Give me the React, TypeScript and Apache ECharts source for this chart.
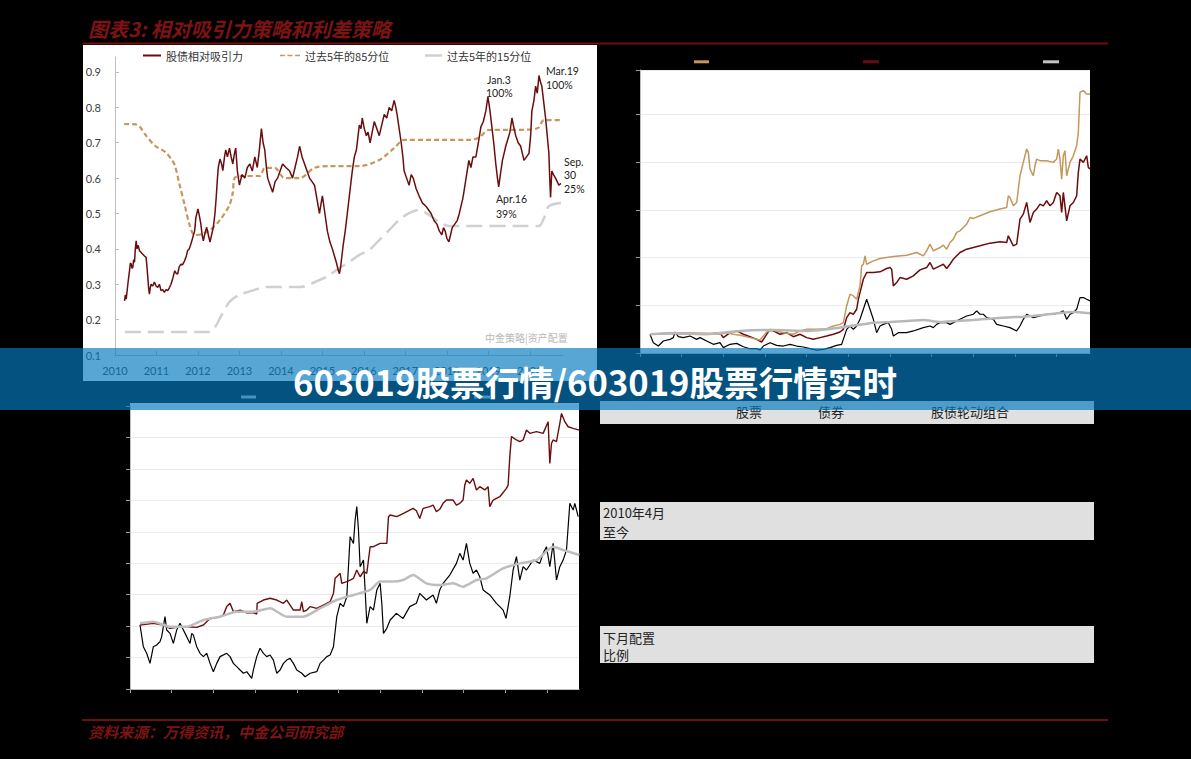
import React, { useEffect, useRef } from "react";
import * as echarts from "echarts";

// ---------- Top-left: 股债相对吸引力 ----------
const yearTicks = [2010, 2011, 2012, 2013, 2014, 2015, 2016, 2017, 2018, 2019, 2020];
const attrTicks = [0.1, 0.2, 0.3, 0.4, 0.5, 0.6, 0.7, 0.8, 0.9];

const attraction = [
  [2010.23,0.253],[2010.25,0.27],[2010.27,0.258],[2010.31,0.30],[2010.33,0.32],[2010.35,0.338],[2010.37,0.36],[2010.39,0.357],[2010.41,0.345],[2010.43,0.348],[2010.45,0.37],[2010.47,0.362],[2010.49,0.40],[2010.51,0.423],[2010.53,0.40],[2010.56,0.41],[2010.59,0.395],[2010.63,0.39],[2010.67,0.385],[2010.71,0.38],[2010.75,0.376],[2010.77,0.35],[2010.79,0.32],[2010.81,0.29],[2010.83,0.272],[2010.85,0.29],[2010.87,0.30],[2010.91,0.295],[2010.95,0.306],[2010.99,0.295],[2011.03,0.291],[2011.07,0.30],[2011.11,0.282],[2011.15,0.285],[2011.19,0.277],[2011.23,0.285],[2011.27,0.282],[2011.31,0.29],[2011.35,0.30],[2011.40,0.32],[2011.44,0.338],[2011.48,0.33],[2011.51,0.329],[2011.55,0.35],[2011.59,0.357],[2011.63,0.355],[2011.68,0.367],[2011.72,0.38],[2011.75,0.395],[2011.79,0.40],[2011.83,0.414],[2011.87,0.43],[2011.92,0.451],[2011.95,0.489],[2012.00,0.513],[2012.04,0.49],[2012.07,0.47],[2012.10,0.44],[2012.13,0.423],[2012.17,0.445],[2012.21,0.461],[2012.25,0.44],[2012.29,0.419],[2012.33,0.44],[2012.37,0.461],[2012.41,0.50],[2012.44,0.546],[2012.47,0.60],[2012.49,0.63],[2012.53,0.654],[2012.57,0.64],[2012.60,0.621],[2012.64,0.66],[2012.67,0.68],[2012.71,0.66],[2012.76,0.685],[2012.80,0.66],[2012.84,0.64],[2012.88,0.67],[2012.91,0.685],[2012.95,0.62],[2013.00,0.58],[2013.06,0.61],[2013.13,0.60],[2013.19,0.63],[2013.25,0.64],[2013.31,0.62],[2013.37,0.66],[2013.43,0.63],[2013.48,0.68],[2013.53,0.74],[2013.57,0.70],[2013.61,0.68],[2013.65,0.63],[2013.68,0.60],[2013.74,0.58],[2013.80,0.56],[2013.86,0.59],[2013.92,0.60],[2013.98,0.62],[2014.04,0.64],[2014.12,0.63],[2014.21,0.62],[2014.28,0.60],[2014.34,0.63],[2014.40,0.66],[2014.45,0.69],[2014.51,0.66],[2014.57,0.64],[2014.63,0.62],[2014.69,0.60],[2014.75,0.59],[2014.81,0.58],[2014.87,0.54],[2014.93,0.50],[2014.97,0.53],[2015.00,0.55],[2015.06,0.50],[2015.12,0.45],[2015.18,0.42],[2015.24,0.40],[2015.29,0.38],[2015.34,0.36],[2015.38,0.34],[2015.41,0.33],[2015.44,0.35],[2015.46,0.37],[2015.50,0.41],[2015.55,0.45],[2015.60,0.50],[2015.65,0.55],[2015.69,0.59],[2015.72,0.62],[2015.77,0.66],[2015.82,0.68],[2015.86,0.72],[2015.89,0.75],[2015.93,0.74],[2015.96,0.77],[2016.01,0.74],[2016.06,0.72],[2016.10,0.73],[2016.15,0.70],[2016.20,0.73],[2016.25,0.76],[2016.31,0.74],[2016.37,0.72],[2016.43,0.75],[2016.49,0.78],[2016.55,0.77],[2016.61,0.80],[2016.67,0.79],[2016.73,0.82],[2016.77,0.80],[2016.80,0.78],[2016.85,0.74],[2016.90,0.70],[2016.94,0.66],[2016.97,0.62],[2017.03,0.60],[2017.09,0.58],[2017.14,0.61],[2017.19,0.60],[2017.26,0.57],[2017.33,0.55],[2017.41,0.53],[2017.50,0.52],[2017.56,0.51],[2017.62,0.50],[2017.69,0.48],[2017.76,0.47],[2017.82,0.45],[2017.88,0.44],[2017.92,0.46],[2017.96,0.45],[2018.00,0.43],[2018.05,0.42],[2018.09,0.44],[2018.13,0.46],[2018.19,0.47],[2018.25,0.48],[2018.30,0.50],[2018.34,0.52],[2018.38,0.54],[2018.41,0.56],[2018.45,0.59],[2018.49,0.62],[2018.53,0.65],[2018.58,0.63],[2018.63,0.66],[2018.70,0.66],[2018.76,0.70],[2018.82,0.745],[2018.88,0.76],[2018.94,0.79],[2018.99,0.83],[2019.04,0.79],[2019.08,0.75],[2019.13,0.70],[2019.18,0.64],[2019.22,0.60],[2019.25,0.575],[2019.29,0.61],[2019.34,0.65],[2019.38,0.67],[2019.42,0.69],[2019.47,0.71],[2019.52,0.73],[2019.57,0.77],[2019.62,0.74],[2019.66,0.72],[2019.72,0.70],[2019.78,0.69],[2019.82,0.67],[2019.86,0.65],[2019.92,0.66],[2019.98,0.67],[2020.02,0.72],[2020.05,0.79],[2020.10,0.82],[2020.14,0.86],[2020.18,0.84],[2020.22,0.89],[2020.26,0.87],[2020.29,0.86],[2020.33,0.82],[2020.38,0.77],[2020.42,0.72],[2020.46,0.67],[2020.48,0.60],[2020.50,0.545],[2020.53,0.62],[2020.57,0.61],[2020.62,0.60],[2020.66,0.59],[2020.70,0.58],[2020.75,0.585]
];

const pct85 = [
  [2010.22,0.753],[2010.50,0.752],[2010.60,0.745],[2010.75,0.72],[2010.98,0.69],[2011.20,0.675],[2011.35,0.655],[2011.44,0.637],[2011.56,0.58],[2011.68,0.524],[2011.80,0.467],[2011.92,0.439],[2012.10,0.442],[2012.28,0.452],[2012.52,0.48],[2012.76,0.524],[2012.84,0.56],[2012.88,0.60],[2013.00,0.606],[2013.49,0.606],[2013.61,0.629],[2013.85,0.629],[2014.09,0.60],[2014.45,0.60],[2014.81,0.629],[2015.17,0.634],[2015.89,0.634],[2016.37,0.651],[2016.73,0.685],[2016.97,0.708],[2018.53,0.708],[2018.77,0.714],[2019.01,0.736],[2019.98,0.737],[2020.20,0.742],[2020.34,0.764],[2020.75,0.764]
];

const pct15 = [
  [2010.24,0.165],[2012.28,0.165],[2012.40,0.176],[2012.57,0.213],[2012.76,0.25],[2013.00,0.27],[2013.37,0.284],[2013.61,0.292],[2014.45,0.292],[2014.93,0.312],[2015.17,0.326],[2015.41,0.346],[2015.65,0.363],[2015.89,0.383],[2016.13,0.397],[2016.37,0.425],[2016.61,0.453],[2016.85,0.482],[2017.09,0.501],[2017.33,0.51],[2017.57,0.496],[2017.81,0.476],[2018.05,0.465],[2020.22,0.465],[2020.34,0.487],[2020.46,0.521],[2020.75,0.53]
];

// ---------- Top-right: 利差策略 ----------
const trSpread = [
  [2010.24,0.696],[2010.80,0.713],[2011.60,0.706],[2011.92,0.696],[2012.08,0.713],[2012.24,0.696],[2012.40,0.685],[2012.64,0.661],[2012.88,0.636],[2013.04,0.72],[2013.20,0.741],[2013.44,0.713],[2013.68,0.696],[2013.84,0.731],[2014.00,0.748],[2014.24,0.748],[2014.48,0.755],[2014.64,0.783],[2014.80,0.80],[2014.88,0.818],[2014.96,0.993],[2015.04,1.116],[2015.12,1.098],[2015.20,1.063],[2015.28,1.203],[2015.32,1.413],[2015.36,1.43],[2015.40,1.518],[2015.44,1.43],[2015.60,1.465],[2015.76,1.49],[2016.08,1.511],[2016.40,1.525],[2016.64,1.553],[2016.80,1.518],[2016.88,1.57],[2016.96,1.64],[2017.04,1.57],[2017.20,1.605],[2017.28,1.63],[2017.36,1.588],[2017.44,1.658],[2017.52,1.693],[2017.60,1.763],[2017.68,1.78],[2017.84,1.85],[2017.92,1.92],[2018.00,1.91],[2018.16,1.938],[2018.40,1.98],[2018.64,2.008],[2018.80,2.025],[2018.84,2.147],[2018.88,2.13],[2018.96,2.042],[2019.04,2.077],[2019.12,2.357],[2019.20,2.497],[2019.28,2.637],[2019.32,2.602],[2019.36,2.427],[2019.44,2.357],[2019.48,2.462],[2019.52,2.532],[2019.60,2.515],[2019.76,2.515],[2019.92,2.497],[2020.00,2.532],[2020.04,2.637],[2020.08,2.532],[2020.12,2.322],[2020.16,2.567],[2020.20,2.62],[2020.24,2.357],[2020.32,2.497],[2020.40,2.567],[2020.48,2.672],[2020.52,2.812],[2020.56,3.232],[2020.64,3.249],[2020.72,3.214],[2020.80,3.214]
];
const trAttraction = [
  [2010.24,0.696],[2010.80,0.706],[2011.60,0.699],[2011.92,0.71],[2012.00,0.661],[2012.16,0.713],[2012.32,0.731],[2012.48,0.696],[2012.64,0.671],[2012.80,0.643],[2012.92,0.615],[2013.04,0.696],[2013.12,0.748],[2013.20,0.731],[2013.36,0.696],[2013.52,0.713],[2013.68,0.671],[2013.84,0.696],[2014.00,0.661],[2014.16,0.643],[2014.32,0.661],[2014.48,0.678],[2014.64,0.696],[2014.80,0.72],[2014.88,0.748],[2014.96,0.871],[2015.04,0.923],[2015.12,0.906],[2015.20,0.958],[2015.24,1.063],[2015.28,1.133],[2015.36,1.273],[2015.44,1.343],[2015.60,1.343],[2015.76,1.35],[2015.92,1.385],[2016.00,1.395],[2016.04,1.378],[2016.08,1.203],[2016.16,1.238],[2016.24,1.29],[2016.40,1.273],[2016.56,1.308],[2016.72,1.371],[2016.88,1.395],[2016.96,1.448],[2017.04,1.378],[2017.20,1.413],[2017.28,1.43],[2017.36,1.385],[2017.44,1.43],[2017.52,1.483],[2017.60,1.518],[2017.68,1.553],[2017.84,1.588],[2018.00,1.605],[2018.16,1.623],[2018.40,1.651],[2018.64,1.665],[2018.80,1.658],[2018.84,1.728],[2018.88,1.693],[2018.96,1.623],[2019.04,1.64],[2019.12,1.903],[2019.20,1.955],[2019.28,2.077],[2019.36,1.868],[2019.44,1.973],[2019.52,2.008],[2019.60,2.06],[2019.68,2.042],[2019.76,2.095],[2019.84,2.042],[2019.92,2.077],[2020.00,2.182],[2020.08,2.147],[2020.12,1.973],[2020.16,2.182],[2020.24,1.885],[2020.32,2.042],[2020.40,2.077],[2020.48,2.147],[2020.52,2.392],[2020.56,2.532],[2020.64,2.497],[2020.72,2.567],[2020.76,2.445],[2020.80,2.427]
];
const trStock = [
  [2010.24,0.696],[2010.32,0.608],[2010.44,0.573],[2010.56,0.626],[2010.72,0.643],[2010.80,0.661],[2010.84,0.72],[2010.92,0.671],[2011.04,0.661],[2011.20,0.678],[2011.36,0.643],[2011.44,0.661],[2011.60,0.626],[2011.76,0.591],[2011.92,0.608],[2012.00,0.556],[2012.16,0.591],[2012.32,0.601],[2012.48,0.566],[2012.64,0.545],[2012.80,0.545],[2012.88,0.531],[2012.96,0.573],[2013.12,0.608],[2013.28,0.58],[2013.44,0.573],[2013.60,0.591],[2013.76,0.573],[2013.92,0.563],[2014.08,0.545],[2014.24,0.531],[2014.40,0.538],[2014.56,0.556],[2014.72,0.58],[2014.84,0.591],[2014.88,0.643],[2014.96,0.748],[2015.04,0.783],[2015.12,0.748],[2015.20,0.783],[2015.28,0.853],[2015.36,0.958],[2015.44,1.063],[2015.52,0.958],[2015.60,0.853],[2015.68,0.713],[2015.76,0.783],[2015.84,0.80],[2015.96,0.818],[2016.04,0.748],[2016.08,0.678],[2016.20,0.713],[2016.40,0.713],[2016.56,0.731],[2016.80,0.766],[2016.96,0.783],[2017.04,0.766],[2017.12,0.80],[2017.20,0.818],[2017.36,0.818],[2017.44,0.80],[2017.52,0.818],[2017.68,0.853],[2017.84,0.888],[2018.00,0.906],[2018.08,0.941],[2018.16,0.906],[2018.24,0.906],[2018.32,0.871],[2018.48,0.853],[2018.56,0.80],[2018.72,0.783],[2018.88,0.766],[2019.04,0.731],[2019.12,0.783],[2019.20,0.853],[2019.28,0.906],[2019.44,0.871],[2019.60,0.888],[2019.76,0.906],[2019.92,0.906],[2020.08,0.923],[2020.16,0.941],[2020.24,0.853],[2020.32,0.906],[2020.40,0.923],[2020.48,0.958],[2020.56,1.081],[2020.64,1.081],[2020.72,1.063],[2020.80,1.046]
];
const trBond = [
  [2010.24,0.696],[2010.80,0.706],[2011.60,0.696],[2012.40,0.731],[2013.20,0.741],[2014.00,0.731],[2014.80,0.766],[2015.60,0.818],[2016.00,0.825],[2016.40,0.836],[2016.80,0.846],[2017.20,0.825],[2017.60,0.836],[2018.00,0.846],[2018.40,0.86],[2018.80,0.871],[2019.20,0.881],[2019.60,0.895],[2020.00,0.916],[2020.40,0.93],[2020.80,0.916]
];

// ---------- Bottom-left: 股债轮动组合 ----------
const blRotation = [
  [2010.24,1.007],[2010.56,1.018],[2010.80,1.007],[2010.96,0.986],[2011.20,0.996],[2011.36,0.996],[2011.60,0.992],[2011.76,1.007],[2011.92,1.049],[2012.16,1.06],[2012.24,1.071],[2012.32,1.124],[2012.40,1.145],[2012.48,1.092],[2012.64,1.102],[2012.80,1.085],[2012.96,1.085],[2013.04,1.077],[2013.05,1.145],[2013.20,1.166],[2013.36,1.177],[2013.52,1.166],[2013.68,1.145],[2013.76,1.166],[2013.84,1.134],[2013.92,1.102],[2014.08,1.102],[2014.12,1.155],[2014.16,1.092],[2014.24,1.102],[2014.32,1.124],[2014.48,1.113],[2014.64,1.134],[2014.80,1.155],[2014.88,1.208],[2014.92,1.304],[2015.00,1.325],[2015.04,1.336],[2015.08,1.272],[2015.20,1.283],[2015.28,1.293],[2015.36,1.304],[2015.44,1.357],[2015.52,1.314],[2015.60,1.346],[2015.68,1.336],[2015.76,1.505],[2015.84,1.505],[2016.00,1.526],[2016.16,1.526],[2016.20,1.696],[2016.24,1.707],[2016.40,1.696],[2016.56,1.717],[2016.71,1.738],[2016.79,1.749],[2016.87,1.734],[2016.95,1.685],[2017.03,1.749],[2017.19,1.76],[2017.27,1.77],[2017.35,1.728],[2017.43,1.743],[2017.51,1.781],[2017.59,1.802],[2017.75,1.802],[2017.83,1.77],[2017.91,1.781],[2017.99,1.802],[2018.03,1.897],[2018.07,1.929],[2018.15,1.908],[2018.23,1.94],[2018.31,1.866],[2018.39,1.887],[2018.51,1.866],[2018.59,1.887],[2018.63,1.76],[2018.71,1.802],[2018.87,1.823],[2019.03,1.876],[2019.07,1.897],[2019.11,2.078],[2019.15,2.205],[2019.27,2.184],[2019.35,2.173],[2019.43,2.184],[2019.51,2.247],[2019.59,2.226],[2019.75,2.237],[2019.91,2.226],[2020.03,2.30],[2020.07,2.035],[2020.11,2.162],[2020.15,2.184],[2020.23,2.173],[2020.31,2.29],[2020.35,2.353],[2020.43,2.30],[2020.51,2.268],[2020.63,2.258],[2020.78,2.247]
];
const blStock = [
  [2010.24,1.007],[2010.32,0.869],[2010.40,0.827],[2010.48,0.763],[2010.56,0.869],[2010.64,0.88],[2010.72,0.901],[2010.76,0.933],[2010.84,1.06],[2010.88,0.975],[2010.96,0.954],[2011.04,0.89],[2011.12,0.975],[2011.20,1.018],[2011.28,0.975],[2011.36,0.933],[2011.44,0.89],[2011.48,0.954],[2011.52,0.943],[2011.60,0.869],[2011.68,0.827],[2011.76,0.806],[2011.84,0.827],[2011.92,0.763],[2012.00,0.71],[2012.08,0.763],[2012.16,0.806],[2012.32,0.827],[2012.40,0.806],[2012.48,0.763],[2012.56,0.742],[2012.64,0.721],[2012.72,0.70],[2012.80,0.71],[2012.92,0.668],[2012.96,0.721],[2013.04,0.806],[2013.12,0.859],[2013.20,0.827],[2013.28,0.806],[2013.36,0.816],[2013.44,0.784],[2013.52,0.70],[2013.60,0.721],[2013.68,0.763],[2013.76,0.784],[2013.84,0.795],[2013.92,0.763],[2014.00,0.721],[2014.12,0.70],[2014.20,0.678],[2014.32,0.70],[2014.48,0.71],[2014.56,0.763],[2014.64,0.784],[2014.72,0.806],[2014.80,0.816],[2014.88,0.869],[2014.96,1.06],[2015.04,1.145],[2015.12,1.124],[2015.20,1.187],[2015.28,1.569],[2015.36,1.526],[2015.40,1.675],[2015.44,1.76],[2015.48,1.611],[2015.52,1.378],[2015.60,1.42],[2015.64,1.23],[2015.68,1.018],[2015.76,1.124],[2015.84,1.102],[2015.92,1.23],[2016.00,1.272],[2016.04,1.145],[2016.08,0.954],[2016.16,0.986],[2016.24,1.039],[2016.39,1.081],[2016.55,1.049],[2016.71,1.124],[2016.87,1.145],[2016.95,1.208],[2017.11,1.166],[2017.27,1.198],[2017.35,1.145],[2017.43,1.23],[2017.51,1.272],[2017.67,1.325],[2017.83,1.399],[2017.91,1.463],[2017.99,1.42],[2018.07,1.526],[2018.15,1.399],[2018.23,1.336],[2018.31,1.357],[2018.39,1.314],[2018.47,1.23],[2018.63,1.198],[2018.79,1.145],[2018.87,1.124],[2018.95,1.102],[2019.02,1.049],[2019.11,1.187],[2019.19,1.357],[2019.27,1.442],[2019.35,1.293],[2019.43,1.378],[2019.51,1.357],[2019.67,1.42],[2019.83,1.399],[2019.91,1.463],[2019.99,1.505],[2020.07,1.378],[2020.15,1.526],[2020.23,1.293],[2020.31,1.378],[2020.39,1.42],[2020.47,1.484],[2020.55,1.781],[2020.63,1.738],[2020.67,1.781],[2020.75,1.696]
];
const blBond = [
  [2010.24,1.018],[2010.56,1.028],[2010.96,0.996],[2011.36,0.996],[2011.76,1.039],[2012.16,1.06],[2012.56,1.092],[2012.96,1.092],[2013.36,1.113],[2013.76,1.06],[2014.16,1.06],[2014.56,1.113],[2014.96,1.166],[2015.36,1.198],[2015.76,1.23],[2016.00,1.283],[2016.31,1.283],[2016.55,1.293],[2016.79,1.325],[2017.11,1.272],[2017.43,1.261],[2017.75,1.272],[2017.99,1.251],[2018.31,1.293],[2018.55,1.304],[2018.95,1.367],[2019.35,1.399],[2019.75,1.42],[2020.15,1.505],[2020.39,1.484],[2020.78,1.452]
];

// ---------- Table ----------
const tableHeader = ["股票", "债券", "股债轮动组合"];
const tableRows = [["2010年4月", "至今"], ["下月配置", "比例"]];

const CJK = '"Noto Sans CJK SC", sans-serif';
const LAT = 'Lato, "Open Sans", sans-serif';
const RED = "#6b0d0f";
const TAN = "#c4975d";
const DASH_ICON = "path://M0,0H6V2H0Z M9,0H15V2H9Z M18,0H24V2H18Z";

function txt(text: string, x: number, y: number, o: any = {}) {
  const align = o.align || "left";
  return {
    type: "text",
    x,
    y,
    z: o.z ?? 10,
    style: {
      text,
      fill: o.fill || "#222",
      fontSize: o.size || 11,
      fontFamily: o.family || LAT,
      fontWeight: o.weight || "normal",
      fontStyle: o.fstyle || "normal",
      align,
      textAlign: align,
      verticalAlign: "middle",
      textVerticalAlign: "middle",
    },
  };
}

function mark(x: number, y: number, w: number, h: number, fill: string, z = 6) {
  return { type: "rect", z, shape: { x, y, width: w, height: h }, style: { fill } };
}

export default function App() {
  const ref = useRef<HTMLDivElement>(null);
  useEffect(() => {
    if (!ref.current) return;
    const chart = echarts.init(ref.current, undefined, { renderer: "svg" });

    const axisGray = "#bfbfbf";
    const hidden = { show: false };

    const legendBase = (name: string, left: number, w: number, h: number, icon = "rect") => ({
      data: [name],
      left,
      top: 50,
      padding: 0,
      icon,
      itemWidth: w,
      itemHeight: h,
      selectedMode: false,
      textStyle: { color: "#333", fontSize: 11, fontFamily: CJK },
    });

    const graphics: any[] = [
      { type: "rect", z: -5, shape: { x: 83, y: 45, width: 514, height: 336 }, style: { fill: "#ffffff" } },
      { type: "rect", z: -5, shape: { x: 130, y: 403, width: 449, height: 286 }, style: { fill: "#ffffff" } },
      { type: "line", z: 5, shape: { x1: 83, y1: 43.5, x2: 1108, y2: 43.5 }, style: { stroke: "#6e0f10", lineWidth: 2 } },
      { type: "line", z: 5, shape: { x1: 82, y1: 720, x2: 1108, y2: 720 }, style: { stroke: "#6e0f10", lineWidth: 2 } },
      txt("图表3: 相对吸引力策略和利差策略", 88, 28, { size: 20, family: CJK, weight: "bold", fstyle: "italic", fill: "#7d1315" }),
      txt("资料来源：万得资讯，中金公司研究部", 88, 731, { size: 15, family: CJK, weight: "bold", fstyle: "italic", fill: "#7d1315" }),
      txt("Jan.3", 487, 80, { size: 10.5 }),
      txt("100%", 486, 93, { size: 10.5 }),
      txt("Mar.19", 546, 71, { size: 10.5 }),
      txt("100%", 546, 85, { size: 10.5 }),
      txt("Sep.", 564, 162, { size: 10.5 }),
      txt("30", 564, 175, { size: 10.5 }),
      txt("25%", 564, 189, { size: 10.5 }),
      txt("Apr.16", 496, 199, { size: 10.5 }),
      txt("39%", 496, 214, { size: 10.5 }),
      txt("中金策略|资产配置", 485, 337, { size: 10, family: CJK, fill: "#b9b9b9" }),
      // legend swatches of the two right/bottom panels (their texts are black on black)
      mark(694, 60.3, 15, 3, TAN),
      mark(863, 60.3, 16, 3, RED),
      mark(1043, 60.3, 16, 3, "#c4c4c4"),
      mark(241, 395.5, 15, 3, "#c4c4c4"),
      mark(474, 395.5, 16, 3, "#c4c4c4"),
      // table
      { type: "rect", z: 1, shape: { x: 600, y: 401, width: 494, height: 23 }, style: { fill: "#e0e0e0" } },
      { type: "rect", z: 1, shape: { x: 600, y: 502, width: 494, height: 38 }, style: { fill: "#e0e0e0" } },
      { type: "rect", z: 1, shape: { x: 600, y: 626, width: 494, height: 37 }, style: { fill: "#e0e0e0" } },
      txt(tableHeader[0], 749, 411, { size: 13, family: CJK, align: "center" }),
      txt(tableHeader[1], 831, 411, { size: 13, family: CJK, align: "center" }),
      txt(tableHeader[2], 970, 411, { size: 13, family: CJK, align: "center" }),
      txt(tableRows[0][0], 603, 512, { size: 13, family: CJK }),
      txt(tableRows[0][1], 603, 531, { size: 13, family: CJK }),
      txt(tableRows[1][0], 603, 637, { size: 13, family: CJK }),
      txt(tableRows[1][1], 603, 654, { size: 13, family: CJK }),
      // banner
      { type: "rect", z: 100, shape: { x: 0, y: 348, width: 1191, height: 62 }, style: { fill: "rgba(5,123,191,0.67)" } },
      txt("603019股票行情/603019股票行情实时", 595, 381, { size: 34.6, family: CJK, weight: "bold", fill: "#ffffff", align: "center", z: 101 }),
    ];

    const option: any = {
      animation: false,
      backgroundColor: "#000000",
      grid: [
        { left: 115, top: 57, width: 448, height: 298, show: false },
        { left: 640, top: 70, width: 450, height: 283, show: true, backgroundColor: "#ffffff", borderWidth: 0 },
        { left: 130, top: 406, width: 449, height: 283, show: true, backgroundColor: "#ffffff", borderWidth: 0 },
      ],
      xAxis: [
        {
          type: "value", gridIndex: 0, min: 2010, max: 2020.8,
          axisLine: { show: true, lineStyle: { color: axisGray } },
          axisTick: { show: true, inside: true, length: 4, lineStyle: { color: axisGray }, customValues: yearTicks },
          axisLabel: { color: "#404040", fontSize: 11, fontFamily: LAT, margin: 10, customValues: yearTicks, formatter: (v: number) => String(Math.round(v)) },
          splitLine: hidden,
        },
        {
          type: "value", gridIndex: 1, min: 2010, max: 2020.8,
          axisLine: { show: true, lineStyle: { color: axisGray } },
          axisTick: { show: true, length: 4, lineStyle: { color: "#9a9a9a" }, customValues: yearTicks },
          axisLabel: hidden,
          splitLine: hidden,
        },
        {
          type: "value", gridIndex: 2, min: 2010, max: 2020.77,
          axisLine: { show: true, lineStyle: { color: axisGray } },
          axisTick: { show: true, length: 4, lineStyle: { color: "#9a9a9a" }, customValues: yearTicks },
          axisLabel: hidden,
          splitLine: hidden,
        },
      ],
      yAxis: [
        {
          type: "value", gridIndex: 0, min: 0.1, max: 0.9424,
          axisLine: { show: true, lineStyle: { color: axisGray } },
          axisTick: { show: true, inside: true, length: 4, lineStyle: { color: axisGray }, customValues: attrTicks },
          axisLabel: { color: "#404040", fontSize: 11, fontFamily: LAT, margin: 14, customValues: attrTicks, formatter: (v: number) => v.toFixed(1) },
          splitLine: hidden,
        },
        {
          type: "value", gridIndex: 1, min: 0.5, max: 3.465, interval: 0.5,
          axisLine: { show: true, lineStyle: { color: axisGray } },
          axisTick: { show: true, length: 4, lineStyle: { color: "#9a9a9a" } },
          axisLabel: hidden,
          splitLine: { show: true, lineStyle: { color: "#ebebeb" } },
        },
        {
          type: "value", gridIndex: 2, min: 0.6, max: 2.4, interval: 0.2,
          axisLine: { show: true, lineStyle: { color: axisGray } },
          axisTick: { show: true, length: 4, lineStyle: { color: "#9a9a9a" } },
          axisLabel: hidden,
          splitLine: { show: true, lineStyle: { color: "#ebebeb" } },
        },
      ],
      legend: [
        legendBase("股债相对吸引力", 143, 18, 2),
        legendBase("过去5年的85分位", 280, 20, 2, DASH_ICON),
        legendBase("过去5年的15分位", 425, 17, 2.5),
      ],
      series: [
        { name: "股债相对吸引力", type: "line", xAxisIndex: 0, yAxisIndex: 0, data: attraction, symbol: "none", lineStyle: { color: RED, width: 1.5 }, itemStyle: { color: RED }, z: 4 },
        { name: "过去5年的85分位", type: "line", xAxisIndex: 0, yAxisIndex: 0, data: pct85, symbol: "none", smooth: 0.3, lineStyle: { color: TAN, width: 2.2, type: [5, 3] }, itemStyle: { color: TAN }, z: 3 },
        { name: "过去5年的15分位", type: "line", xAxisIndex: 0, yAxisIndex: 0, data: pct15, symbol: "none", smooth: 0.3, lineStyle: { color: "#d0d0d0", width: 2.5, type: [16, 7] }, itemStyle: { color: "#d0d0d0" }, z: 3 },

        { name: "股票", type: "line", xAxisIndex: 1, yAxisIndex: 1, data: trStock, symbol: "none", lineStyle: { color: "#000", width: 1.2 }, itemStyle: { color: "#000" }, z: 2 },
        { name: "相对吸引力策略", type: "line", xAxisIndex: 1, yAxisIndex: 1, data: trAttraction, symbol: "none", lineStyle: { color: RED, width: 1.5 }, itemStyle: { color: RED }, z: 3 },
        { name: "利差策略", type: "line", xAxisIndex: 1, yAxisIndex: 1, data: trSpread, symbol: "none", lineStyle: { color: TAN, width: 1.5 }, itemStyle: { color: TAN }, z: 3 },
        { name: "债券", type: "line", xAxisIndex: 1, yAxisIndex: 1, data: trBond, symbol: "none", smooth: 0.2, lineStyle: { color: "#b8b8b8", width: 2.5 }, itemStyle: { color: "#b8b8b8" }, z: 4 },

        { name: "股债轮动组合", type: "line", xAxisIndex: 2, yAxisIndex: 2, data: blRotation, symbol: "none", lineStyle: { color: RED, width: 1.4 }, itemStyle: { color: RED }, z: 3 },
        { name: "股票指数", type: "line", xAxisIndex: 2, yAxisIndex: 2, data: blStock, symbol: "none", lineStyle: { color: "#000", width: 1.2 }, itemStyle: { color: "#000" }, z: 2 },
        { name: "债券指数", type: "line", xAxisIndex: 2, yAxisIndex: 2, data: blBond, symbol: "none", smooth: 0.2, lineStyle: { color: "#bdbdbd", width: 2.5 }, itemStyle: { color: "#bdbdbd" }, z: 4 },
      ],
      graphic: { elements: graphics },
    };

    chart.setOption(option);
    return () => chart.dispose();
  }, []);

  return (
    <div
      ref={ref}
      style={{ position: "absolute", left: 0, top: 0, width: 1191, height: 759, background: "#000" }}
    />
  );
}
